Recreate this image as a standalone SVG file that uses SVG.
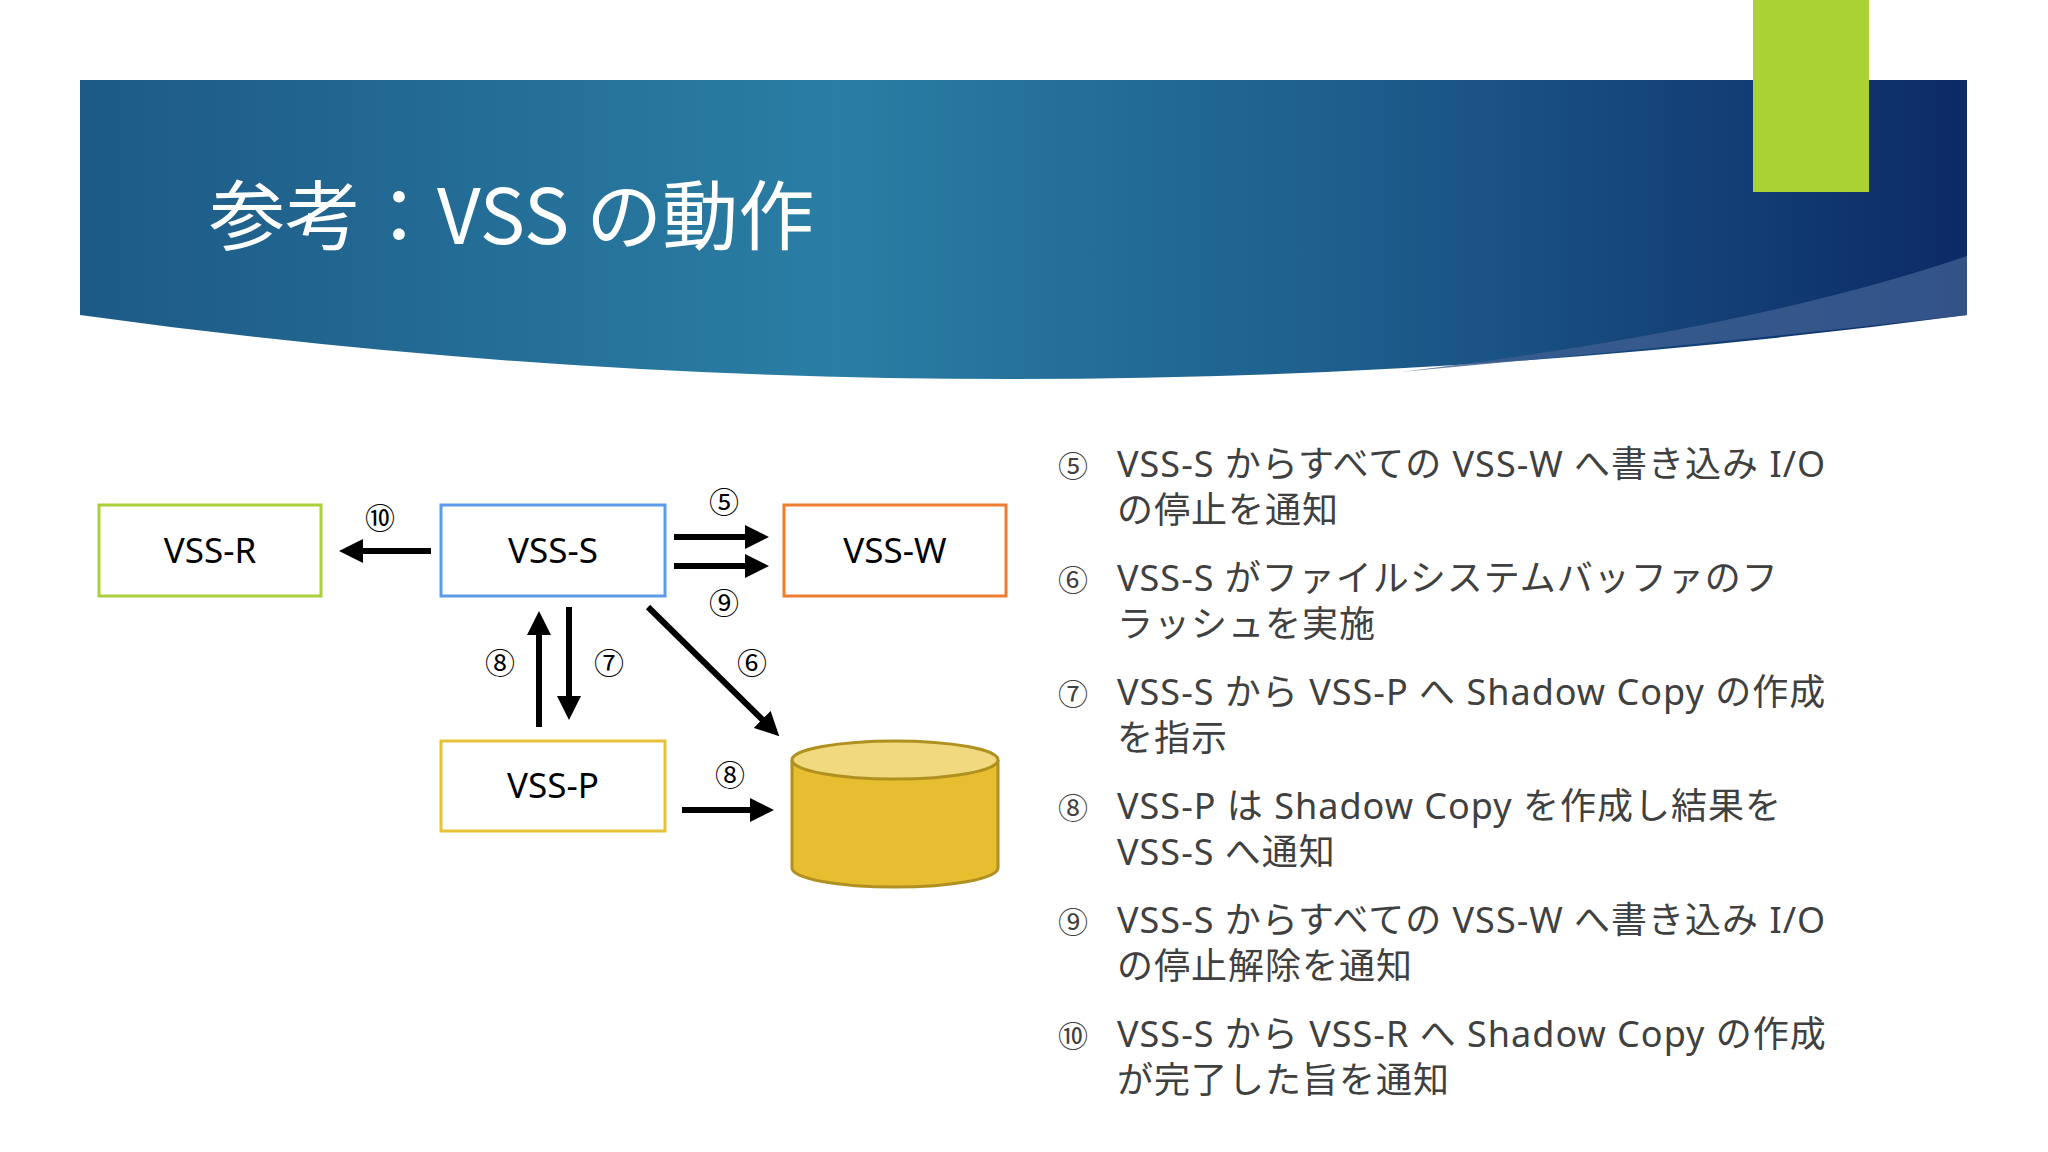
<svg xmlns="http://www.w3.org/2000/svg" width="2048" height="1152" viewBox="0 0 2048 1152">
<defs>
<linearGradient id="hdr" x1="0" y1="0" x2="1" y2="0">
<stop offset="0" stop-color="#1d5a86"/>
<stop offset="0.4" stop-color="#2a7ea4"/>
<stop offset="0.7" stop-color="#1c5a8a"/>
<stop offset="1" stop-color="#0c2a66"/>
</linearGradient>
<marker id="ah" markerWidth="4" markerHeight="4" refX="3" refY="2" orient="auto" markerUnits="strokeWidth"><path d="M0,0 L4,2 L0,4 z" fill="#000"/></marker>
<style>
.box{fill:#fff;stroke-width:3}
.lbl{font-family:"Noto Sans","Noto Sans CJK JP",sans-serif;font-size:35px;fill:#000;text-anchor:middle}
.num{font-family:"Noto Sans CJK JP",sans-serif;font-size:30px;fill:#000;text-anchor:middle}
.ar{stroke:#000;stroke-width:6;fill:none;marker-end:url(#ah)}
.li{font-family:"Noto Sans","Noto Sans CJK JP",sans-serif;font-size:36px;letter-spacing:1px;fill:#404040}
.ln{font-family:"Noto Sans CJK JP",sans-serif;font-size:30px;fill:#404040}
</style>
</defs>
<rect width="2048" height="1152" fill="#fff"/>
<path d="M80,80 H1967 V315 Q1000,443 80,315 Z" fill="url(#hdr)"/>
<path d="M1967,256 Q1750,330 1400,372 Q1750,340 1967,315 Z" fill="#3d5e90" opacity="0.8"/>
<rect x="1753" y="0" width="116" height="192" fill="#abd233"/>
<text x="209" y="244" font-family="Noto Sans CJK JP, sans-serif" font-size="76" fill="#fff">参考：VSS の動作</text>
<g id="vss-r"><rect class="box" x="99" y="505" width="222" height="91" stroke="#a9cf3a"/><text class="lbl" x="210" y="563">VSS-R</text></g>
<g id="vss-s"><rect class="box" x="441" y="505" width="224" height="91" stroke="#5b9bea"/><text class="lbl" x="553" y="563">VSS-S</text></g>
<g id="vss-w"><rect class="box" x="784" y="505" width="222" height="91" stroke="#ee7d30"/><text class="lbl" x="895" y="563">VSS-W</text></g>
<g id="vss-p"><rect class="box" x="441" y="741" width="224" height="90" stroke="#e6c23a"/><text class="lbl" x="553" y="798">VSS-P</text></g>
<g id="disk">
<path d="M792,760 V868 A103,19 0 0 0 998,868 V760" fill="#e6be30" stroke="#b0901e" stroke-width="3"/>
<ellipse cx="895" cy="760" rx="103" ry="19" fill="#f0d97e" stroke="#b0901e" stroke-width="3"/>
</g>
<g id="connectors">
<line class="ar" x1="431" y1="551" x2="345" y2="551"/>
<line class="ar" x1="674" y1="537" x2="763" y2="537"/>
<line class="ar" x1="674" y1="566" x2="763" y2="566"/>
<line class="ar" x1="539" y1="727" x2="539" y2="617"/>
<line class="ar" x1="569" y1="607" x2="569" y2="714"/>
<line class="ar" x1="648" y1="607" x2="775" y2="732"/>
<line class="ar" x1="682" y1="810" x2="768" y2="810"/>
<text class="num" x="380" y="529">⑩</text>
<text class="num" x="724" y="513">⑤</text>
<text class="num" x="724" y="614">⑨</text>
<text class="num" x="500" y="674">⑧</text>
<text class="num" x="609" y="674">⑦</text>
<text class="num" x="752" y="674">⑥</text>
<text class="num" x="730" y="786">⑧</text>
</g>
<g id="list">
<text class="ln" x="1058" y="477">⑤</text><text class="li" x="1117" y="477">VSS-S からすべての VSS-W へ書き込み I/O</text><text class="li" x="1117" y="523">の停止を通知</text>
<text class="ln" x="1058" y="591">⑥</text><text class="li" x="1117" y="591">VSS-S がファイルシステムバッファのフ</text><text class="li" x="1117" y="637">ラッシュを実施</text>
<text class="ln" x="1058" y="705">⑦</text><text class="li" x="1117" y="705">VSS-S から VSS-P へ Shadow Copy の作成</text><text class="li" x="1117" y="751">を指示</text>
<text class="ln" x="1058" y="819">⑧</text><text class="li" x="1117" y="819">VSS-P は Shadow Copy を作成し結果を</text><text class="li" x="1117" y="865">VSS-S へ通知</text>
<text class="ln" x="1058" y="933">⑨</text><text class="li" x="1117" y="933">VSS-S からすべての VSS-W へ書き込み I/O</text><text class="li" x="1117" y="979">の停止解除を通知</text>
<text class="ln" x="1058" y="1047">⑩</text><text class="li" x="1117" y="1047">VSS-S から VSS-R へ Shadow Copy の作成</text><text class="li" x="1117" y="1093">が完了した旨を通知</text>
</g>
</svg>
